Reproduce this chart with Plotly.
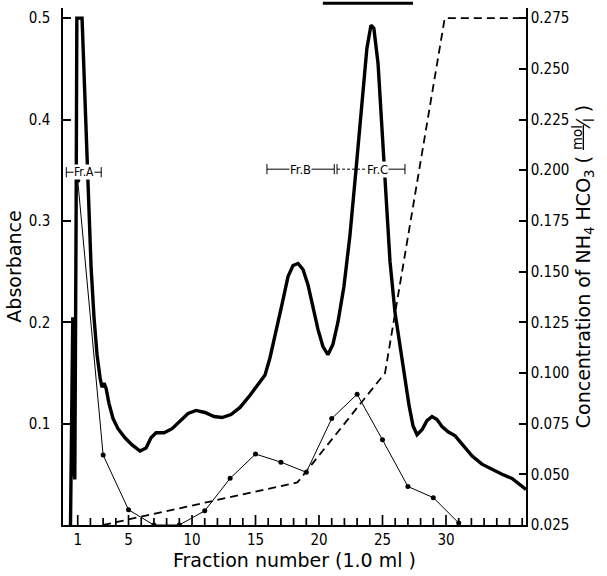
import plotly.graph_objects as go

# ---- data ----
# Absorbance recorder trace (fraction number, absorbance)
abs_frac = [0.43, 0.55, 0.61, 0.67, 0.77, 0.87, 0.93, 1.34, 1.50, 1.65, 1.81, 2.05, 2.28, 2.52,
            2.76, 2.91, 3.07, 3.23, 3.46, 3.78, 4.17, 4.72, 5.28, 5.91, 6.38, 6.77, 7.17, 7.80,
            8.43, 9.06, 9.69, 10.31, 11.02, 11.73, 12.36, 13.07, 13.78, 14.57, 15.28, 15.75,
            16.14, 16.61, 17.09, 17.56, 17.95, 18.35, 18.74, 19.13, 19.53, 19.92, 20.31, 20.70,
            21.09, 21.49, 21.96, 22.43, 22.91, 23.38, 23.77, 24.09, 24.32, 24.65, 24.96, 25.28,
            25.59, 25.98, 26.38, 26.77, 27.09, 27.40, 27.72, 28.11, 28.50, 28.90, 29.29, 29.69,
            30.16, 30.72, 31.35, 32.06, 32.83, 33.62, 34.41, 35.20, 35.83, 36.30]
abs_val = [0.0, 0.205, 0.205, 0.06, 0.045, 0.30, 0.50, 0.50, 0.44, 0.38, 0.32, 0.255, 0.205, 0.168,
           0.145, 0.136, 0.140, 0.135, 0.120, 0.105, 0.095, 0.086, 0.079, 0.073, 0.076, 0.086,
           0.091, 0.091, 0.095, 0.102, 0.110, 0.113, 0.111, 0.107, 0.106, 0.109, 0.116, 0.128,
           0.140, 0.148, 0.165, 0.190, 0.218, 0.245, 0.256, 0.258, 0.252, 0.237, 0.215, 0.193,
           0.176, 0.168, 0.178, 0.200, 0.235, 0.285, 0.350, 0.420, 0.470, 0.493, 0.490, 0.455,
           0.390, 0.320, 0.260, 0.210, 0.175, 0.145, 0.118, 0.098, 0.089, 0.094, 0.103, 0.107,
           0.104, 0.097, 0.092, 0.088, 0.078, 0.068, 0.060, 0.055, 0.050, 0.046, 0.040, 0.035]

# Second series (thin line with dots), every second fraction
dot_frac = [1, 3, 5, 7, 9, 11, 13, 15, 17, 19, 21, 23, 25, 27, 29, 31]
dot_val = [0.34, 0.069, 0.015, 0.0, 0.0, 0.014, 0.046, 0.070, 0.062, 0.052, 0.105, 0.129,
           0.084, 0.038, 0.027, 0.002]

# NH4HCO3 gradient (right axis)
grad_frac = [3.0, 18.3, 25.2, 29.9, 36.3]
grad_conc = [0.025, 0.046, 0.100, 0.275, 0.275]

# axis ticks
x_tick_vals = [1, 5, 10, 15, 20, 25, 30]
x_minor_vals = list(range(1, 37))
y_tick_vals = [0.1, 0.2, 0.3, 0.4, 0.5]
y2_tick_vals = [0.025, 0.050, 0.075, 0.100, 0.125, 0.150, 0.175, 0.200, 0.225, 0.250, 0.275]

# fraction pools: (label, start, end, y)
pools = [("Fr.A", 0.1, 2.85, 0.348), ("Fr.B", 15.9, 21.2, 0.351), ("Fr.C", 21.42, 26.77, 0.351)]
top_bar = (20.3, 27.4)

X_RANGE = [-0.16, 36.3]
PLOT_H = 576 - 8 - 51
TICKFONT = dict(family="DejaVu Sans Condensed, Liberation Sans, Arial", size=15, color="black")
TITLEFONT = dict(family="DejaVu Sans, Arial", size=19, color="black")
LABELFONT = "DejaVu Sans Condensed, Liberation Sans, Arial"

fig = go.Figure()

fig.add_trace(go.Scatter(x=abs_frac, y=abs_val, mode="lines",
                         line=dict(color="black", width=3.4), showlegend=False))
fig.add_trace(go.Scatter(x=dot_frac, y=dot_val, mode="lines+markers",
                         line=dict(color="black", width=1),
                         marker=dict(color="black", size=5), showlegend=False))
fig.add_trace(go.Scatter(x=grad_frac, y=grad_conc, mode="lines", yaxis="y2",
                         line=dict(color="black", width=1.8, dash="8px,5px"), showlegend=False))

shapes = []
annotations = []

# fraction ticks along the bottom axis, pointing up into the plot
for v in x_minor_vals:
    length = 10 if v in x_tick_vals else 7
    shapes.append(dict(type="line", xref="x", yref="paper", x0=v, x1=v,
                       y0=0, y1=length / PLOT_H, line=dict(color="black", width=1.7)))

cap = 0.005
for name, x0, x1, yy in pools:
    mid = (x0 + x1) / 2
    if name == "Fr.C":
        shapes.append(dict(type="line", xref="x", yref="y", x0=x0, x1=mid, y0=yy, y1=yy,
                           line=dict(color="black", width=1, dash="3px,2px")))
        shapes.append(dict(type="line", xref="x", yref="y", x0=mid, x1=x1, y0=yy, y1=yy,
                           line=dict(color="black", width=1)))
    else:
        shapes.append(dict(type="line", xref="x", yref="y", x0=x0, x1=x1, y0=yy, y1=yy,
                           line=dict(color="black", width=1)))
    for xe in (x0, x1):
        shapes.append(dict(type="line", xref="x", yref="y", x0=xe, x1=xe,
                           y0=yy - cap, y1=yy + cap, line=dict(color="black", width=1)))
    annotations.append(dict(x=mid + (0.5 if name == "Fr.C" else 0), y=yy, xref="x", yref="y",
                            text=name, showarrow=False, bgcolor="white",
                            borderpad=0,
                            font=dict(family=LABELFONT,
                                      size=12 if name == "Fr.A" else 13, color="black")))

shapes.append(dict(type="line", xref="x", yref="paper", x0=top_bar[0], x1=top_bar[1],
                   y0=1.009, y1=1.009, line=dict(color="black", width=3)))

fig.update_layout(
    width=607, height=576,
    margin=dict(l=63, r=81, t=8, b=51),
    paper_bgcolor="white", plot_bgcolor="white",
    shapes=shapes, annotations=annotations,
    xaxis=dict(range=X_RANGE, showline=True, linecolor="black", linewidth=1.5,
               ticks="", tickmode="array", tickvals=x_tick_vals,
               ticktext=[str(v) for v in x_tick_vals],
               tickfont=TICKFONT, showgrid=False, zeroline=False,
               title=dict(text="Fraction number (1.0 ml )", font=TITLEFONT, standoff=6)),
    yaxis=dict(range=[0, 0.51], showline=True, linecolor="black", linewidth=1.5,
               ticks="inside", ticklen=8, tickwidth=1.6, tickcolor="black",
               tickvals=y_tick_vals, ticktext=[f"{v:.1f}" for v in y_tick_vals],
               tickfont=TICKFONT, showgrid=False, zeroline=False, ticklabelstandoff=8,
               title=dict(text="Absorbance", font=TITLEFONT, standoff=2)),
    yaxis2=dict(range=[0.025, 0.28], overlaying="y", side="right", showline=True,
                linecolor="black", linewidth=1.5, ticks="inside", ticklen=7, tickwidth=1.6,
                tickcolor="black", tickvals=y2_tick_vals,
                ticktext=[f"{v:.3f}" for v in y2_tick_vals],
                tickfont=TICKFONT, showgrid=False, zeroline=False,
                title=dict(text="Concentration of NH<sub>4</sub> HCO<sub>3</sub> ( <sup><u>mol</u></sup>⁄<sub>l</sub> )",
                           font=TITLEFONT, standoff=8)),
)

fig.write_html("out.html")
